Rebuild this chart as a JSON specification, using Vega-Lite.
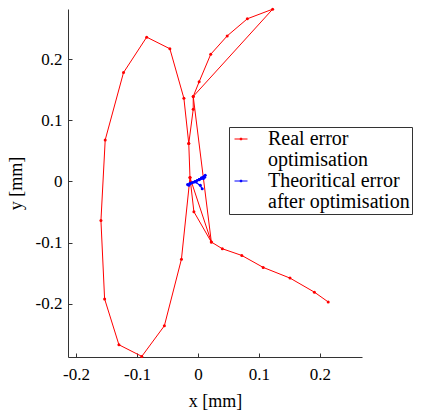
{
  "$schema": "https://vega.github.io/schema/vega-lite/v6.json",
  "width": 294,
  "height": 348,
  "autosize": "none",
  "padding": {"left": 68, "top": 9, "right": 71, "bottom": 60},
  "background": "white",
  "config": {
    "view": {"stroke": null},
    "font": "Liberation Serif",
    "axis": {
      "labelFont": "Liberation Serif",
      "titleFont": "Liberation Serif",
      "labelFontSize": 17,
      "titleFontSize": 18,
      "titleFontWeight": "normal",
      "labelColor": "#000",
      "titleColor": "#000",
      "domainColor": "#333",
      "tickColor": "#333",
      "grid": false
    }
  },
  "data": {
    "values": [
      {"series": "Real error optimisation", "i": 0, "x": 0.2136, "y": -0.197},
      {"series": "Real error optimisation", "i": 1, "x": 0.191, "y": -0.181},
      {"series": "Real error optimisation", "i": 2, "x": 0.151, "y": -0.158},
      {"series": "Real error optimisation", "i": 3, "x": 0.107, "y": -0.1405},
      {"series": "Real error optimisation", "i": 4, "x": 0.072, "y": -0.121},
      {"series": "Real error optimisation", "i": 5, "x": 0.04, "y": -0.11},
      {"series": "Real error optimisation", "i": 6, "x": 0.022, "y": -0.099},
      {"series": "Real error optimisation", "i": 7, "x": -0.0066, "y": -0.0495},
      {"series": "Real error optimisation", "i": 8, "x": -0.013, "y": 0.0065},
      {"series": "Real error optimisation", "i": 9, "x": -0.027, "y": -0.127},
      {"series": "Real error optimisation", "i": 10, "x": -0.055, "y": -0.236},
      {"series": "Real error optimisation", "i": 11, "x": -0.092, "y": -0.286},
      {"series": "Real error optimisation", "i": 12, "x": -0.1295, "y": -0.267},
      {"series": "Real error optimisation", "i": 13, "x": -0.153, "y": -0.192},
      {"series": "Real error optimisation", "i": 14, "x": -0.159, "y": -0.064},
      {"series": "Real error optimisation", "i": 15, "x": -0.152, "y": 0.068},
      {"series": "Real error optimisation", "i": 16, "x": -0.122, "y": 0.178},
      {"series": "Real error optimisation", "i": 17, "x": -0.084, "y": 0.236},
      {"series": "Real error optimisation", "i": 18, "x": -0.046, "y": 0.217},
      {"series": "Real error optimisation", "i": 19, "x": -0.023, "y": 0.136},
      {"series": "Real error optimisation", "i": 20, "x": -0.015, "y": 0.062},
      {"series": "Real error optimisation", "i": 21, "x": -0.013, "y": 0.0065},
      {"series": "Real error optimisation", "i": 22, "x": 0.022, "y": -0.099},
      {"series": "Real error optimisation", "i": 23, "x": -0.0077, "y": 0.139},
      {"series": "Real error optimisation", "i": 24, "x": 0.002, "y": 0.163},
      {"series": "Real error optimisation", "i": 25, "x": 0.021, "y": 0.208},
      {"series": "Real error optimisation", "i": 26, "x": 0.048, "y": 0.238},
      {"series": "Real error optimisation", "i": 27, "x": 0.081, "y": 0.266},
      {"series": "Real error optimisation", "i": 28, "x": 0.1225, "y": 0.2817},
      {"series": "Real error optimisation", "i": 29, "x": -0.0077, "y": 0.139},
      {"series": "Real error optimisation", "i": 30, "x": -0.0077, "y": 0.118},
      {"series": "Real error optimisation", "i": 31, "x": -0.015, "y": 0.062},
      {"series": "Theoritical error after optimisation", "i": 0, "x": -0.017, "y": -0.005},
      {"series": "Theoritical error after optimisation", "i": 1, "x": 0.006, "y": 0.006},
      {"series": "Theoritical error after optimisation", "i": 2, "x": -0.013, "y": -0.003},
      {"series": "Theoritical error after optimisation", "i": 3, "x": 0.01, "y": 0.008},
      {"series": "Theoritical error after optimisation", "i": 4, "x": -0.01, "y": -0.002},
      {"series": "Theoritical error after optimisation", "i": 5, "x": 0.012, "y": 0.01},
      {"series": "Theoritical error after optimisation", "i": 6, "x": -0.006, "y": -0.001},
      {"series": "Theoritical error after optimisation", "i": 7, "x": 0.004, "y": -0.006},
      {"series": "Theoritical error after optimisation", "i": 8, "x": 0.007, "y": -0.012},
      {"series": "Theoritical error after optimisation", "i": 9, "x": -0.003, "y": 0.0},
      {"series": "Theoritical error after optimisation", "i": 10, "x": 0.009, "y": 0.005},
      {"series": "Theoritical error after optimisation", "i": 11, "x": -0.015, "y": -0.006},
      {"series": "Theoritical error after optimisation", "i": 12, "x": 0.002, "y": 0.003},
      {"series": "Theoritical error after optimisation", "i": 13, "x": 0.011, "y": 0.007}
    ]
  },
  "mark": {"type": "line", "strokeWidth": 1, "clip": false, "point": {"filled": true, "size": 9}},
  "encoding": {
    "x": {
      "field": "x", "type": "quantitative",
      "scale": {"domain": [-0.213, 0.269], "nice": false, "zero": false},
      "axis": {"values": [-0.2, -0.1, 0, 0.1, 0.2], "format": ".1~f", "labelExpr": "replace(datum.label, '\u2212', '-')", "tickSize": -4, "labelPadding": 13, "title": "x [mm]", "titlePadding": 10, "labelFlush": false}
    },
    "y": {
      "field": "y", "type": "quantitative",
      "scale": {"domain": [-0.287, 0.282], "nice": false, "zero": false},
      "axis": {"values": [-0.2, -0.1, 0, 0.1, 0.2], "format": ".1~f", "labelExpr": "replace(datum.label, '\u2212', '-')", "tickSize": -4, "labelPadding": 10, "title": "y [mm]", "titlePadding": 10, "labelFlush": false}
    },
    "order": {"field": "i", "type": "quantitative"},
    "color": {
      "field": "series", "type": "nominal",
      "scale": {"domain": ["Real error optimisation", "Theoritical error after optimisation"], "range": ["#ff0000", "#0000ff"]},
      "legend": {
        "title": null,
        "orient": "none",
        "legendX": 161,
        "legendY": 118,
        "strokeColor": "#333",
        "fillColor": "white",
        "padding": 2,
        "symbolType": "M-1,0H1M-0.12,-0.12H0.12V0.12H-0.12Z",
        "symbolSize": 169,
        "symbolStrokeWidth": 1,
        "labelOffset": 17,
        "labelFont": "Liberation Serif",
        "labelFontSize": 20,
        "labelColor": "#000",
        "labelLimit": 300,
        "labelExpr": "datum.value == 'Real error optimisation' ? ['Real error', 'optimisation'] : ['Theoritical error', 'after optimisation\u00a0\u00a0\u00a0\u00a0\u00a0']",
        "rowPadding": 1,
        "encode": {"labels": {"update": {"lineHeight": {"value": 21}}}}
      }
    }
  }
}
